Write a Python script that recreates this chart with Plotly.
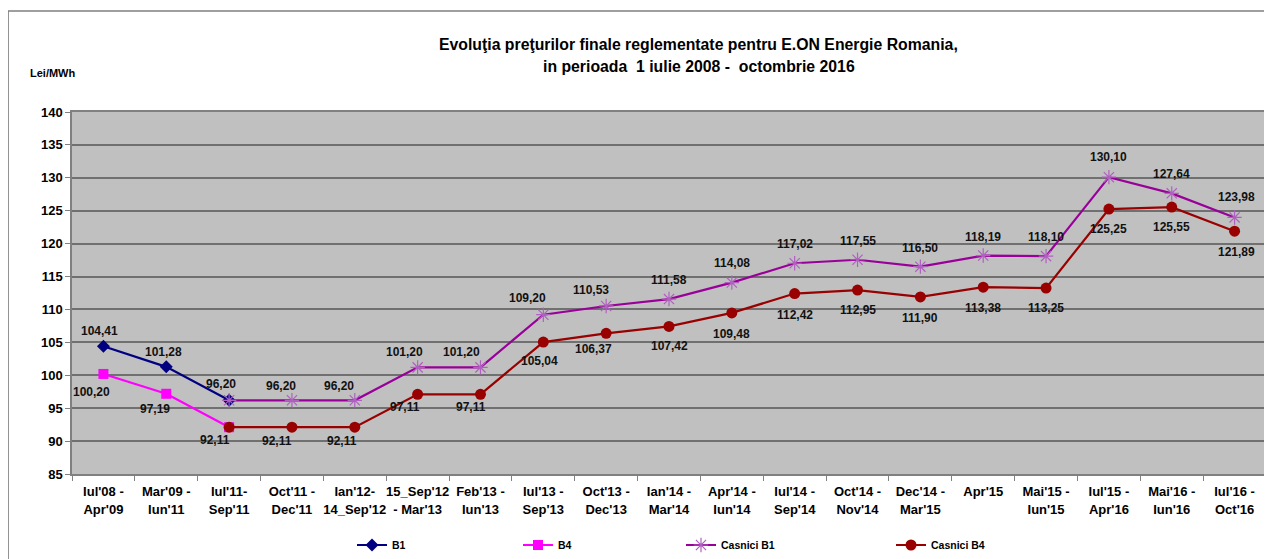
import plotly.graph_objects as go

# ---------------- data ----------------
categories = ["Iul'08 -<br>Apr'09", "Mar'09 -<br>Iun'11", "Iul'11-<br>Sep'11", "Oct'11 -<br>Dec'11",
              "Ian'12-<br>14_Sep'12", "15_Sep'12<br>- Mar'13", "Feb'13 -<br>Iun'13", "Iul'13 -<br>Sep'13",
              "Oct'13 -<br>Dec'13", "Ian'14 -<br>Mar'14", "Apr'14 -<br>Iun'14", "Iul'14 -<br>Sep'14",
              "Oct'14 -<br>Nov'14", "Dec'14 -<br>Mar'15", "Apr'15", "Mai'15 -<br>Iun'15",
              "Iul'15 -<br>Apr'16", "Mai'16 -<br>Iun'16", "Iul'16 -<br>Oct'16"]

b1 = [104.41, 101.28, 96.20] + [None] * 16
b4 = [100.20, 97.19, 92.11] + [None] * 16
casnici_b1 = [None, None, 96.20, 96.20, 96.20, 101.20, 101.20, 109.20, 110.53, 111.58,
              114.08, 117.02, 117.55, 116.50, 118.19, 118.10, 130.10, 127.64, 123.98]
casnici_b4 = [None, None, 92.11, 92.11, 92.11, 97.11, 97.11, 105.04, 106.37, 107.42,
              109.48, 112.42, 112.95, 111.90, 113.38, 113.25, 125.25, 125.55, 121.89]

y_ticks = [85, 90, 95, 100, 105, 110, 115, 120, 125, 130, 135, 140]

# ---------------- styling (label pixel offsets: (dx, dy), None = no label) ----------------
off_b1 = [(-4, 15), (-3, 15), (-8, 16)] + [None] * 16
off_b4 = [(-12, -18), (-11, -15), (-14, -13)] + [None] * 16
off_cb1 = [None, None, None, (-11, 14), (-16, 14), (-13, 15), (-19, 15), (-16, 17), (-15, 16),
           (0, 19), (0, 20), (0, 19), (0, 19), (0, 19), (0, 19), (0, 19), (0, 20), (0, 19), (2, 20)]
off_cb4 = [None, None, None, (-15, -14), (-13, -14), (-13, -13), (-9, -13), (-4, -19), (-13, -16),
           (0, -20), (0, -21), (0, -21), (0, -20), (0, -21), (0, -21), (0, -20), (0, -20), (0, -20), (2, -21)]

FONT = "Liberation Sans, Arial, sans-serif"
PAGE_OFF = 8                      # browser body margin
W, H = 1272 - PAGE_OFF, 559 - PAGE_OFF
PLOT_L, PLOT_R, PLOT_T, PLOT_B = 72, 1268, 112, 474   # page pixel coords of plot area
ML = PLOT_L - PAGE_OFF
MT = PLOT_T - PAGE_OFF
MR = W - (PLOT_R - PAGE_OFF)
MB = H - (PLOT_B - PAGE_OFF)
PW, PH = PLOT_R - PLOT_L, PLOT_B - PLOT_T


def px_x(px):
    return (px - PLOT_L) / PW


def px_y(py):
    return (PLOT_B - py) / PH


series = [
    dict(name="B1", y=b1, off=off_b1, color="#000080", mcolor="#000080", symbol="diamond", size=10,
         legend="legend"),
    dict(name="B4", y=b4, off=off_b4, color="#FF00FF", mcolor="#FF00FF", symbol="square", size=10,
         legend="legend2"),
    dict(name="Casnici B1", y=casnici_b1, off=off_cb1, color="#990099", mcolor="#B060C0",
         symbol="asterisk-open", size=12, legend="legend3"),
    dict(name="Casnici B4", y=casnici_b4, off=off_cb4, color="#990000", mcolor="#990000",
         symbol="circle", size=11, legend="legend4"),
]

fig = go.Figure()
annotations = []
for s in series:
    marker = dict(symbol=s["symbol"], size=s["size"], color=s["mcolor"])
    if s["symbol"] == "asterisk-open":
        marker["line"] = dict(color=s["mcolor"], width=1.2)
    fig.add_trace(go.Scatter(
        x=categories, y=s["y"], name=s["name"], mode="lines+markers",
        line=dict(color=s["color"], width=2.2), marker=marker,
        connectgaps=False, legend=s["legend"], hoverinfo="x+y+name"))
    for cat, val, off in zip(categories, s["y"], s["off"]):
        if val is None or off is None:
            continue
        annotations.append(dict(
            x=cat, y=val, xref="x", yref="y", showarrow=False,
            text=f"{val:.2f}".replace(".", ","),
            xshift=off[0], yshift=off[1],
            font=dict(family=FONT, size=12, color="#111111", weight="bold")))

# title and unit label
annotations.append(dict(
    xref="paper", yref="paper", x=px_x(700), y=px_y(45),
    xanchor="center", yanchor="middle", showarrow=False,
    text="Evoluţia preţurilor finale reglementate pentru E.ON Energie Romania,",
    font=dict(family=FONT, size=15.8, color="#000000", weight="bold")))
annotations.append(dict(
    xref="paper", yref="paper", x=px_x(700), y=px_y(66),
    xanchor="center", yanchor="middle", showarrow=False,
    text="in perioada\u00a0\u00a01 iulie 2008 -\u00a0\u00a0octombrie 2016",
    font=dict(family=FONT, size=15.8, color="#000000", weight="bold")))
annotations.append(dict(
    xref="paper", yref="paper", x=px_x(52), y=px_y(73),
    xanchor="center", yanchor="middle", showarrow=False, text="Lei/MWh",
    font=dict(family=FONT, size=11, color="#000000", weight="bold")))

ticktext = ["<br>".join(f"<span style='font-size:13px'>{part}</span>" for part in c.split("<br>"))
            for c in categories]

legend_common = dict(orientation="h", xref="container", yref="container", yanchor="middle",
                     xanchor="left", y=1 - (545 - PAGE_OFF) / H, bgcolor="rgba(0,0,0,0)",
                     font=dict(family=FONT, size=10.5, color="#000000", weight="bold"),
                     itemwidth=30)


def leg_x(text_px):
    return (text_px - PAGE_OFF - 43) / W


fig.update_layout(
    width=W, height=H,
    margin=dict(l=ML, r=MR, t=MT, b=MB),
    paper_bgcolor="white", plot_bgcolor="#C0C0C0",
    showlegend=True,
    legend=dict(x=leg_x(395), **legend_common),
    legend2=dict(x=leg_x(561), **legend_common),
    legend3=dict(x=leg_x(724), **legend_common),
    legend4=dict(x=leg_x(934), **legend_common),
    annotations=annotations,
    shapes=[dict(type="rect", xref="paper", yref="paper",
                 x0=px_x(8), x1=1.2, y0=-0.6, y1=px_y(11),
                 line=dict(color="#808080", width=1.5), fillcolor="rgba(0,0,0,0)", layer="below")],
    font=dict(family=FONT),
)

fig.update_xaxes(
    type="category", tickvals=categories, ticktext=ticktext,
    range=[-0.5, len(categories) - 0.5], autorange=False,
    tickfont=dict(family=FONT, size=14, color="#000000", weight="bold"),
    ticks="outside", tickson="boundaries", ticklen=5, tickcolor="#808080",
    ticklabelstandoff=3,
    showline=True, linecolor="#808080", linewidth=1.5, mirror=True,
    showgrid=False, zeroline=False, tickangle=0)

fig.update_yaxes(
    range=[85, 140], autorange=False, tickvals=y_ticks, ticks="outside", ticklen=5, tickcolor="#808080",
    tickfont=dict(family=FONT, size=13, color="#000000", weight="bold"),
    showline=True, linecolor="#808080", linewidth=1.5, mirror=True,
    showgrid=True, gridcolor="#707070", gridwidth=1.5, zeroline=False)

fig.write_html("out.html")
